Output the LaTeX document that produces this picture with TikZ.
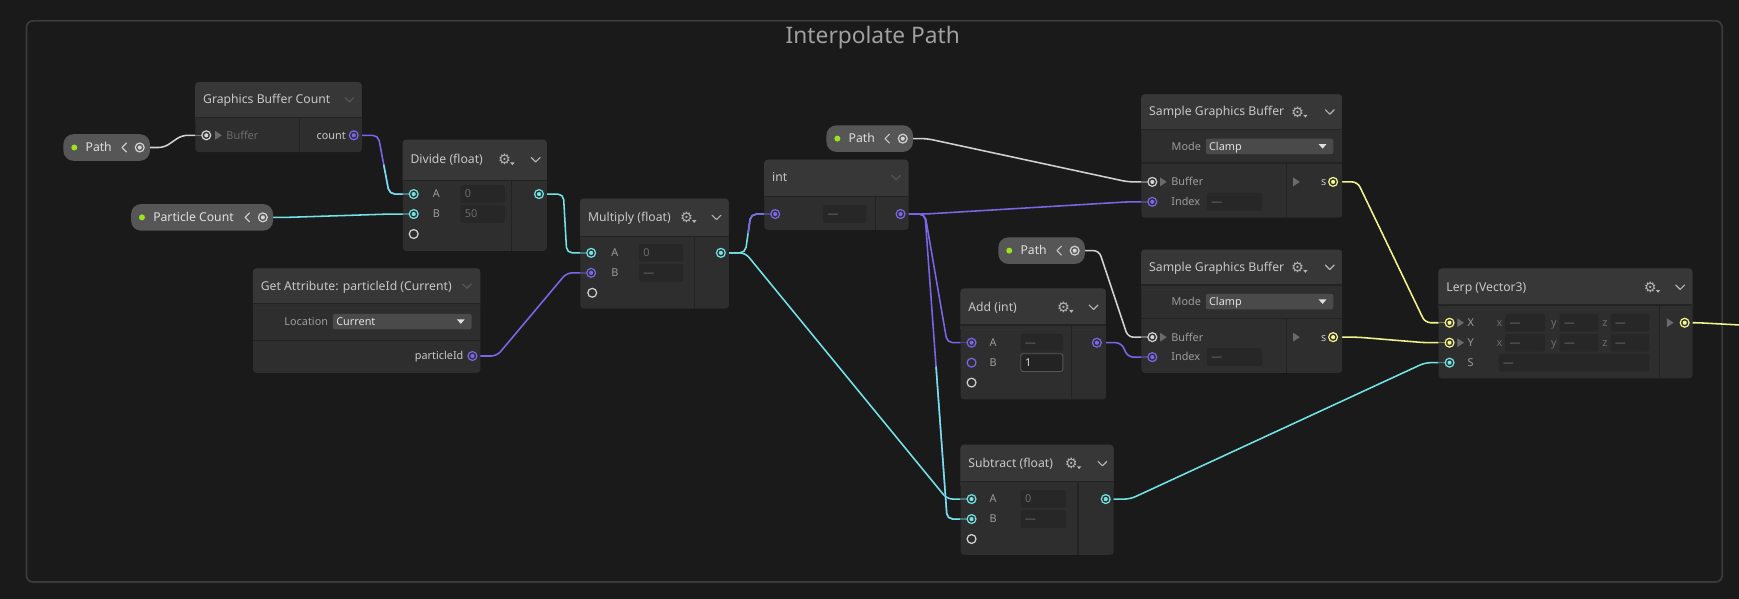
\documentclass[tikz,border=0pt]{standalone}
\usepackage{fontspec}
\setmainfont{Noto Sans}
\newfontfamily\gearfont{DejaVu Sans}
\usetikzlibrary{calc, backgrounds}
\pgfdeclarelayer{wires}
\pgfsetlayers{background,wires,main}

\definecolor{canvas}{HTML}{1A1A1A}
\definecolor{framecol}{HTML}{3A3A3A}
\definecolor{grouptext}{HTML}{A0A0A0}
\definecolor{bodycol}{HTML}{2E2E2E}
\definecolor{headcol}{HTML}{373737}
\definecolor{sepcol}{HTML}{232323}
\definecolor{fieldcol}{HTML}{272727}
\definecolor{pillcol}{HTML}{565656}
\definecolor{dropcol}{HTML}{4A4A4A}
\definecolor{dropfg}{HTML}{E0E0E0}
\definecolor{titlecol}{HTML}{C8C8C8}
\definecolor{labelcol}{HTML}{9C9C9C}
\definecolor{dimcol}{HTML}{6C6C6C}
\definecolor{tricol}{HTML}{6A6A6A}
\definecolor{iconcol}{HTML}{B4B4B4}
\definecolor{dimicon}{HTML}{575757}
\definecolor{acyan}{HTML}{74E3E6}
\definecolor{apurple}{HTML}{7C66E8}
\definecolor{ayellow}{HTML}{F4F48C}
\definecolor{awhite}{HTML}{D2D2D2}
\definecolor{agreen}{HTML}{9CE21F}

\tikzstyle{groupframe} = [rectangle, rounded corners=6pt, draw=framecol, line width=1.6pt, inner sep=0pt]
\tikzstyle{grouptitle} = [text=grouptext, font=\fontsize{20.5}{24}\selectfont, inner sep=0pt]
\tikzstyle{boxbody} = [rectangle, rounded corners=3pt, fill=bodycol, inner sep=0pt]
\tikzstyle{sepline} = [draw=sepcol, line width=1pt]
\tikzstyle{boxtitle} = [anchor=west, inner sep=0pt, text height=7pt, text depth=0pt, text=titlecol, font=\fontsize{11}{12}\selectfont]
\tikzstyle{portlabel} = [inner sep=0pt, text height=7pt, text depth=0pt, text=labelcol, font=\fontsize{9.8}{11}\selectfont]
\tikzstyle{dimlabel} = [portlabel, text=dimcol]
\tikzstyle{fieldbox} = [rectangle, rounded corners=2pt, fill=fieldcol, inner sep=0pt, minimum height=16pt]
\tikzstyle{fieldtext} = [inner sep=0pt, text height=7pt, text depth=0pt, text=dimcol, font=\fontsize{9.8}{11}\selectfont]
\tikzstyle{dropbox} = [rectangle, rounded corners=2pt, fill=dropcol, inner sep=0pt, minimum height=14pt]
\tikzstyle{droptext} = [inner sep=0pt, text height=7pt, text depth=0pt, text=dropfg, font=\fontsize{9.8}{11}\selectfont]
\tikzstyle{pillbox} = [rectangle, rounded corners=9pt, fill=pillcol, inner sep=0pt, minimum height=24pt]
\tikzstyle{pilltext} = [inner sep=0pt, text height=7pt, text depth=0pt, text=dropfg, font=\fontsize{11}{12}\selectfont]
\tikzstyle{chevline} = [line width=1pt, line cap=round, line join=round]
\tikzstyle{gearicon} = [inner sep=0pt, text=iconcol, font=\gearfont\fontsize{13}{13}\selectfont]
\tikzset{
    port/.style={circle, draw=#1, fill=bodycol, line width=1.1pt, inner sep=0pt, minimum size=8pt,
        path picture={\fill[#1] (path picture bounding box.center) circle (1.9pt);}},
    openport/.style={circle, draw=#1, fill=bodycol, line width=1.1pt, inner sep=0pt, minimum size=8pt},
    stubline/.style={draw=#1!40!bodycol, line width=1.3pt},
    wire/.style={draw=#1, line width=1.4pt, rounded corners=5pt}
}

% box: name, x, y, width, height, header height
\newcommand{\vfxbox}[6]{
    \node[boxbody, minimum width=#4pt, minimum height=#5pt, anchor=north west] (#1) at (#2,#3) {};
    \fill[headcol, rounded corners=3pt] (#2,#3) rectangle (#2+#4,#3+#6+4);
    \fill[bodycol] (#2,#3+#6) rectangle (#2+#4,#3+#6+4);
    \draw[sepline] (#2,#3+#6) -- (#2+#4,#3+#6);
}
\newcommand{\vfxin}[4]{
    \draw[stubline=#2] (#3,#4) -- (#3+10,#4);
    \node[port=#2] (#1) at (#3+10,#4) {};
}
\newcommand{\vfxfield}[5]{
    \node[fieldbox, minimum width=#4pt, anchor=west] (#1) at (#2,#3) {};
    \node[fieldtext, anchor=west] (#1-t) at (#2+4,#3) {#5};
}
\newcommand{\vfxdrop}[5]{
    \node[dropbox, minimum width=#4pt, anchor=west] (#1) at (#2,#3) {};
    \node[droptext, anchor=west] (#1-t) at (#2+3,#3) {#5};
    \fill[dropfg] (#2+#4-13,#3-2) -- (#2+#4-6,#3-2) -- (#2+#4-9.5,#3+2) -- cycle;
}
\newcommand{\vfxchev}[3]{\draw[chevline, #3] (#1-4,#2-2) -- (#1,#2+2) -- (#1+4,#2-2);}
\newcommand{\vfxgear}[3]{
    \node[gearicon] (#1) at (#2-1,#3) {⚙};
    \fill[iconcol] (#2+4,#3+2.5) -- (#2+8,#3+2.5) -- (#2+6,#3+5) -- cycle;
}
\newcommand{\vfxtri}[2]{\fill[tricol] (#1-3,#2-4) -- (#1+3,#2) -- (#1-3,#2+4) -- cycle;}
\newcommand{\vfxpill}[5]{
    \node[pillbox, minimum width=#4pt, anchor=west] (#1) at (#2,#3) {};
    \fill[agreen] (#2+10,#3) circle (2.7pt);
    \node[pilltext, anchor=west] (#1-t) at (#2+20,#3) {#5};
    \draw[chevline, titlecol] (#2+#4-21,#3-4) -- (#2+#4-25,#3) -- (#2+#4-21,#3+4);
    \node[port=awhite, fill=pillcol] (#1-out) at (#2+#4-9,#3) {};
}
\newcommand{\vfxwire}[3]{\draw[wire=#1] (#2) -- ++(22,0) -- ($(#3)+(-22,0)$) -- (#3);}
\newcommand{\vfxwiretwo}[4]{
    \coordinate (#3-#4-mid) at ($(#3)!0.5!(#4)$);
    \draw[wire=#1] (#3) -- ++(22,0) -- ($(#4)+(-22,0)$) -- (#4);
    \draw[wire=#2] (#3-#4-mid) -- ($(#4)+(-22,0)$) -- (#4);
}

\begin{document}
\begin{tikzpicture}[x=1pt, y=-1pt]

    \useasboundingbox (0,0) rectangle (1568,540);

    % canvas and group frame
    \begin{pgfonlayer}{background}
        \fill[canvas] (0,0) rectangle (1568,540);
        \node[groupframe, minimum width=1529pt, minimum height=506pt, anchor=north west] (group) at (23,18) {};
        \node[grouptitle] (group-title) at (787,34) {Interpolate Path};
    \end{pgfonlayer}

    % property pills
    \vfxpill{path1}{57}{133}{78}{Path}
    \vfxpill{pcount}{118}{196}{128}{Particle Count}
    \vfxpill{path2}{745}{125}{78}{Path}
    \vfxpill{path3}{900}{226}{78}{Path}

    % Graphics Buffer Count
    \vfxbox{gbc}{176}{74}{150}{63}{32}
    \node[boxtitle] (gbc-title) at (183,90) {Graphics Buffer Count};
    \vfxchev{315}{90}{dimicon}
    \draw[sepline] (270,106) -- (270,137);
    \vfxin{gbcbuf}{awhite}{176}{122}
    \vfxtri{197}{122}
    \node[dimlabel, anchor=west] (gbc-buf) at (204,122) {Buffer};
    \node[portlabel, text=titlecol, anchor=east] (gbc-count) at (312,122) {count};
    \node[port=apurple] (gbcout) at (319,122) {};

    % Divide
    \vfxbox{div}{363}{126}{130}{100}{37}
    \node[boxtitle] (div-title) at (370,144) {Divide (float)};
    \vfxgear{div-gear}{456}{144}
    \vfxchev{483}{144}{iconcol}
    \draw[sepline] (461,163) -- (461,226);
    \vfxin{divA}{acyan}{363}{175}
    \node[portlabel, anchor=west] (divA-l) at (390,175) {A};
    \vfxfield{divA-f}{415}{175}{40}{0}
    \vfxin{divB}{acyan}{363}{193}
    \node[portlabel, anchor=west] (divB-l) at (390,193) {B};
    \vfxfield{divB-f}{415}{193}{40}{50}
    \node[openport=awhite] (divC) at (373,211) {};
    \node[port=acyan] (divout) at (486,175) {};

    % Get Attribute
    \vfxbox{attr}{228}{242}{205}{94}{32}
    \node[boxtitle] (attr-title) at (235,258) {Get Attribute: particleId (Current)};
    \vfxchev{421}{258}{dimicon}
    \draw[sepline] (228,307) -- (433,307);
    \node[portlabel, anchor=east] (attr-loc-l) at (296,290) {Location};
    \vfxdrop{attr-loc}{300}{290}{125}{Current}
    \node[portlabel, text=titlecol, anchor=east] (attr-id) at (418,321) {particleId};
    \node[port=apurple] (attrout) at (426,321) {};

    % Multiply
    \vfxbox{mul}{523}{179}{134}{99}{34}
    \node[boxtitle] (mul-title) at (530,196) {Multiply (float)};
    \vfxgear{mul-gear}{620}{196}
    \vfxchev{646}{196}{iconcol}
    \draw[sepline] (626,213) -- (626,278);
    \vfxin{mulA}{acyan}{523}{228}
    \node[portlabel, anchor=west] (mulA-l) at (551,228) {A};
    \vfxfield{mulA-f}{576}{228}{40}{0}
    \vfxin{mulB}{apurple}{523}{246}
    \node[portlabel, anchor=west] (mulB-l) at (551,246) {B};
    \vfxfield{mulB-f}{576}{246}{40}{—}
    \node[openport=awhite] (mulC) at (534,264) {};
    \node[port=acyan] (mulout) at (650,228) {};

    % int
    \vfxbox{int}{689}{144}{130}{63}{33}
    \node[boxtitle] (int-title) at (696,160) {int};
    \vfxchev{808}{160}{dimicon}
    \draw[sepline] (789,177) -- (789,207);
    \vfxin{intin}{apurple}{689}{193}
    \vfxfield{int-f}{742}{193}{39}{—}
    \node[port=apurple] (intout) at (812,193) {};

    % Sample Graphics Buffer (top)
    \vfxbox{sgbA}{1029}{85}{181}{111}{32}
    \node[boxtitle] (sgbA-title) at (1036,101) {Sample Graphics Buffer};
    \vfxgear{sgbA-gear}{1171}{101}
    \vfxchev{1199}{101}{iconcol}
    \draw[sepline] (1029,147) -- (1210,147);
    \node[portlabel, anchor=east] (sgbA-mode-l) at (1083,132) {Mode};
    \vfxdrop{sgbA-mode}{1087}{132}{115}{Clamp}
    \draw[sepline] (1160,147) -- (1160,196);
    \vfxin{sgbAbuf}{awhite}{1029}{164}
    \vfxtri{1049}{164}
    \node[portlabel, anchor=west] (sgbA-buf) at (1056,164) {Buffer};
    \vfxin{sgbAidx}{apurple}{1029}{182}
    \node[portlabel, anchor=west] (sgbA-idx) at (1056,182) {Index};
    \vfxfield{sgbA-f}{1088}{182}{50}{—}
    \vfxtri{1169}{164}
    \node[portlabel, text=titlecol, anchor=east] (sgbA-s) at (1196,164) {s};
    \node[port=ayellow] (sgbAout) at (1202,164) {};

    % Sample Graphics Buffer (bottom)
    \vfxbox{sgbB}{1029}{225}{181}{111}{32}
    \node[boxtitle] (sgbB-title) at (1036,241) {Sample Graphics Buffer};
    \vfxgear{sgbB-gear}{1171}{241}
    \vfxchev{1199}{241}{iconcol}
    \draw[sepline] (1029,287) -- (1210,287);
    \node[portlabel, anchor=east] (sgbB-mode-l) at (1083,272) {Mode};
    \vfxdrop{sgbB-mode}{1087}{272}{115}{Clamp}
    \draw[sepline] (1160,287) -- (1160,336);
    \vfxin{sgbBbuf}{awhite}{1029}{304}
    \vfxtri{1049}{304}
    \node[portlabel, anchor=west] (sgbB-buf) at (1056,304) {Buffer};
    \vfxin{sgbBidx}{apurple}{1029}{322}
    \node[portlabel, anchor=west] (sgbB-idx) at (1056,322) {Index};
    \vfxfield{sgbB-f}{1088}{322}{50}{—}
    \vfxtri{1169}{304}
    \node[portlabel, text=titlecol, anchor=east] (sgbB-s) at (1196,304) {s};
    \node[port=ayellow] (sgbBout) at (1202,304) {};

    % Add
    \vfxbox{add}{866}{260}{131}{100}{33}
    \node[boxtitle] (add-title) at (873,277) {Add (int)};
    \vfxgear{add-gear}{960}{277}
    \vfxchev{986}{277}{iconcol}
    \draw[sepline] (966,293) -- (966,360);
    \vfxin{addA}{apurple}{866}{309}
    \node[portlabel, anchor=west] (addA-l) at (892,309) {A};
    \vfxfield{addA-f}{920}{309}{38}{—}
    \node[openport=apurple] (addB) at (876,327) {};
    \node[portlabel, anchor=west] (addB-l) at (892,327) {B};
    \node[fieldbox, minimum width=38pt, anchor=west, fill=sepcol, draw=dimicon, line width=0.8pt] (addB-f) at (920,327) {};
    \node[fieldtext, text=dropfg, anchor=west] (addB-f-t) at (924,327) {1};
    \node[openport=awhite] (addC) at (876,345) {};
    \node[port=apurple] (addout) at (989,309) {};

    % Subtract
    \vfxbox{sub}{866}{401}{138}{99}{33}
    \node[boxtitle] (sub-title) at (873,418) {Subtract (float)};
    \vfxgear{sub-gear}{967}{418}
    \vfxchev{994}{418}{iconcol}
    \draw[sepline] (972,434) -- (972,500);
    \vfxin{subA}{acyan}{866}{450}
    \node[portlabel, anchor=west] (subA-l) at (892,450) {A};
    \vfxfield{subA-f}{920}{450}{41}{0}
    \vfxin{subB}{acyan}{866}{468}
    \node[portlabel, anchor=west] (subB-l) at (892,468) {B};
    \vfxfield{subB-f}{920}{468}{41}{—}
    \node[openport=awhite] (subC) at (876,486) {};
    \node[port=acyan] (subout) at (997,450) {};

    % Lerp
    \vfxbox{lerp}{1297}{242}{229}{99}{33}
    \node[boxtitle] (lerp-title) at (1304,259) {Lerp (Vector3)};
    \vfxgear{lerp-gear}{1489}{259}
    \vfxchev{1515}{259}{iconcol}
    \draw[sepline] (1496,275) -- (1496,341);
    \vfxin{lerpX}{ayellow}{1297}{291}
    \vfxtri{1317}{291}
    \node[portlabel, anchor=west] (lerpX-l) at (1323,291) {X};
    \node[dimlabel] (lerpX-x) at (1352,291) {x};
    \vfxfield{lerpX-fx}{1357}{291}{36}{—}
    \node[dimlabel] (lerpX-y) at (1401,291) {y};
    \vfxfield{lerpX-fy}{1406}{291}{35}{—}
    \node[dimlabel] (lerpX-z) at (1447,291) {z};
    \vfxfield{lerpX-fz}{1452}{291}{35}{—}
    \vfxin{lerpY}{ayellow}{1297}{309}
    \vfxtri{1317}{309}
    \node[portlabel, anchor=west] (lerpY-l) at (1323,309) {Y};
    \node[dimlabel] (lerpY-x) at (1352,309) {x};
    \vfxfield{lerpY-fx}{1357}{309}{36}{—}
    \node[dimlabel] (lerpY-y) at (1401,309) {y};
    \vfxfield{lerpY-fy}{1406}{309}{35}{—}
    \node[dimlabel] (lerpY-z) at (1447,309) {z};
    \vfxfield{lerpY-fz}{1452}{309}{35}{—}
    \vfxin{lerpS}{acyan}{1297}{327}
    \node[portlabel, anchor=west] (lerpS-l) at (1323,327) {S};
    \vfxfield{lerpS-f}{1351}{327}{136}{—}
    \vfxtri{1506}{291}
    \node[port=ayellow] (lerpout) at (1519,291) {};
    \coordinate (lerpend) at (1568,293);

    % connections
    \begin{pgfonlayer}{wires}
        \vfxwire{awhite}{path1-out}{gbcbuf}
        \vfxwiretwo{apurple}{acyan}{gbcout}{divA}
        \vfxwire{acyan}{pcount-out}{divB}
        \vfxwire{acyan}{divout}{mulA}
        \vfxwire{apurple}{attrout}{mulB}
        \vfxwiretwo{acyan}{apurple}{mulout}{intin}
        \vfxwire{acyan}{mulout}{subA}
        \vfxwire{awhite}{path2-out}{sgbAbuf}
        \vfxwire{apurple}{intout}{sgbAidx}
        \vfxwire{apurple}{intout}{addA}
        \vfxwiretwo{apurple}{acyan}{intout}{subB}
        \vfxwire{awhite}{path3-out}{sgbBbuf}
        \vfxwire{apurple}{addout}{sgbBidx}
        \vfxwire{ayellow}{sgbAout}{lerpX}
        \vfxwire{ayellow}{sgbBout}{lerpY}
        \vfxwire{acyan}{subout}{lerpS}
        \draw[wire=ayellow] (lerpout) -- ++(12,0) -- (lerpend);
    \end{pgfonlayer}

\end{tikzpicture}
\end{document}
